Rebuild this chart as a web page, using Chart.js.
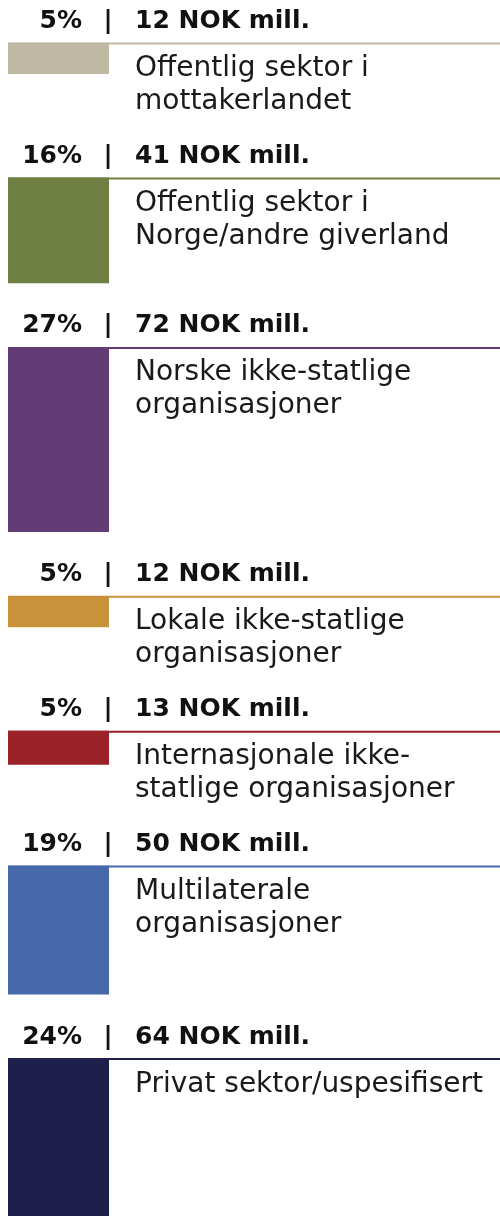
<!DOCTYPE html>
<html>
<head>
<meta charset="utf-8">
<script src="https://cdn.jsdelivr.net/npm/chart.js@4"></script>
<style>
  html, body { margin: 0; padding: 0; background: #fff; }
  #wrap { width: 500px; height: 1216px; position: relative; }
</style>
</head>
<body>
<div id="wrap"><canvas id="sectorChart"></canvas></div>
<script>
// Data
const sectorLabels = [
    ['Offentlig sektor i', 'mottakerlandet'],
    ['Offentlig sektor i', 'Norge/andre giverland'],
    ['Norske ikke-statlige', 'organisasjoner'],
    ['Lokale ikke-statlige', 'organisasjoner'],
    ['Internasjonale ikke-', 'statlige organisasjoner'],
    ['Multilaterale', 'organisasjoner'],
    ['Privat sektor/uspesifisert']
];
const shares = [5, 16, 27, 5, 5, 19, 24];          // %
const amounts = [12, 41, 72, 12, 13, 50, 64];       // NOK mill.
const colors = ['#bfb8a3', '#6f8042', '#633c75', '#c8923b', '#9b2129', '#4468aa', '#1f1f4c'];

// Layout in value units (scale is ~2.56 px per NOK mill.)
const yMax = 475;
const topOffset = 16.8;  // room for the first header
const minRow = 27.5;     // room for two lines of label text
const rowGap = 25.2;     // room for the header above each bar

const starts = [];
let pos = topOffset;
amounts.forEach(v => {
    starts.push(pos);
    pos += Math.max(v, minRow) + rowGap;
});

const barData = amounts.map((v, i) => ({ x: 'andel', y: [starts[i], starts[i] + v] }));

const rowText = {
    id: 'rowText',
    afterDatasetsDraw(chart) {
        const ctx = chart.ctx;
        const yScale = chart.scales.y;
        const left = chart.chartArea.left;
        const right = chart.width;
        const barRight = chart.chartArea.right;
        const textX = barRight + 26;

        ctx.save();
        amounts.forEach((v, i) => {
            const y = yScale.getPixelForValue(starts[i]);

            // rule across the row
            ctx.strokeStyle = colors[i];
            ctx.lineWidth = 2;
            ctx.beginPath();
            ctx.moveTo(left, y + 0.5);
            ctx.lineTo(right, y + 0.5);
            ctx.stroke();

            // header: "5%  |  12 NOK mill."
            ctx.fillStyle = '#111';
            ctx.font = 'bold 25px "DejaVu Sans", Verdana, sans-serif';
            ctx.textBaseline = 'alphabetic';
            const hy = y - 15;
            ctx.textAlign = 'right';
            ctx.fillText(shares[i] + '%', 82, hy);
            ctx.textAlign = 'center';
            ctx.fillText('|', barRight - 1, hy);
            ctx.textAlign = 'left';
            ctx.fillText(v + ' NOK mill.', textX, hy);

            // category label
            ctx.font = '28px "DejaVu Sans", Verdana, sans-serif';
            ctx.fillStyle = '#1a1a1a';
            sectorLabels[i].forEach((line, k) => {
                ctx.fillText(line, textX, y + 33 + k * 33);
            });
        });
        ctx.restore();
    }
};

const ctx = document.getElementById('sectorChart').getContext('2d');
const sectorChart = new Chart(ctx, {
    type: 'bar',
    data: {
        labels: ['andel'],
        datasets: [{
            label: 'NOK mill.',
            data: barData,
            backgroundColor: colors,
            borderWidth: 0,
            categoryPercentage: 1,
            barPercentage: 1
        }]
    },
    options: {
        responsive: true,
        maintainAspectRatio: false,
        animation: false,
        layout: {
            padding: { left: 8, right: 391, top: 0, bottom: 0 }
        },
        scales: {
            x: { display: false },
            y: {
                display: false,
                reverse: true,
                min: 0,
                max: yMax
            }
        },
        plugins: {
            legend: { display: false },
            tooltip: { enabled: false }
        }
    },
    plugins: [rowText]
});
</script>
</body>
</html>
